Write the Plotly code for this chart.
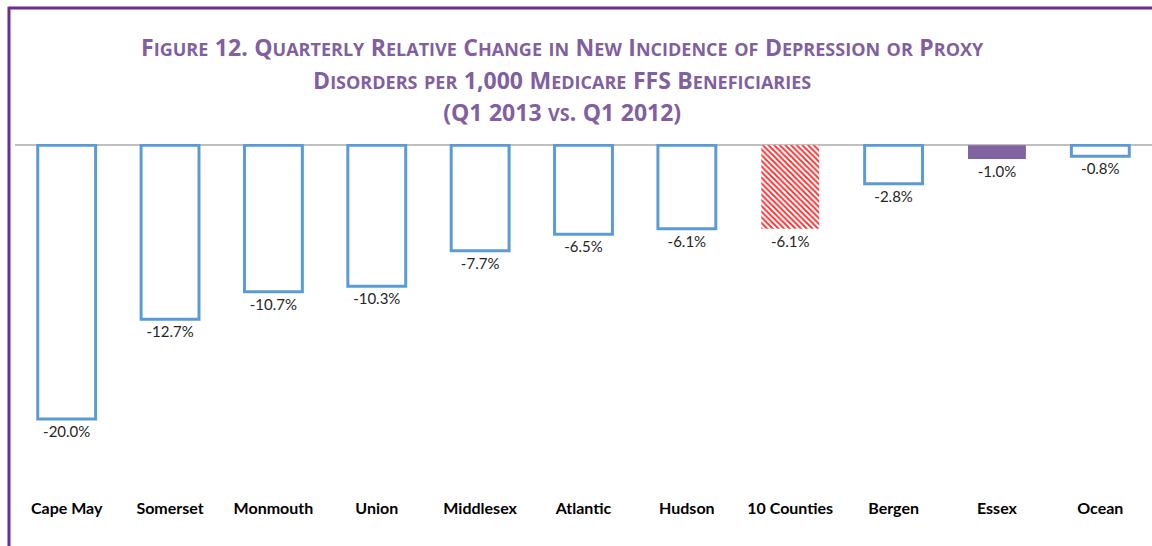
import plotly.graph_objects as go

categories = ["Cape May", "Somerset", "Monmouth", "Union", "Middlesex", "Atlantic",
              "Hudson", "10 Counties", "Bergen", "Essex", "Ocean"]
values = [-20.0, -12.7, -10.7, -10.3, -7.7, -6.5, -6.1, -6.1, -2.8, -1.0, -0.8]
labels = ["-20.0%", "-12.7%", "-10.7%", "-10.3%", "-7.7%", "-6.5%", "-6.1%", "-6.1%",
          "-2.8%", "-1.0%", "-0.8%"]
highlight = "10 Counties"

BLUE = "#5B9BD5"
PURPLE = "#8064A2"
BORDER = "#6E2C8F"
RED = "#FF1E1E"

idx_main = [i for i, c in enumerate(categories) if c != highlight]
idx_hl = [i for i, c in enumerate(categories) if c == highlight]

fill = [PURPLE if categories[i] == "Essex" else "white" for i in idx_main]
line_w = [0 if categories[i] == "Essex" else 3 for i in idx_main]

textfont = dict(family="Lato, Open Sans, sans-serif", size=15, color="#262626")


def small_caps(s, big=23, small=18):
    out = []
    for ch in s:
        if ch.islower():
            out.append(f"<span style='font-size:{small}px'>{ch.upper()}</span>")
        elif ch == " ":
            out.append(" ")
        else:
            out.append(f"<span style='font-size:{big}px'>{ch}</span>")
    return "".join(out)


title_lines = ["Figure 12. Quarterly Relative Change in New Incidence of Depression or Proxy",
               "Disorders per 1,000 Medicare FFS Beneficiaries",
               "(Q1 2013 vs. Q1 2012)"]
title_text = "<b>" + "<br>".join(small_caps(t) for t in title_lines) + "</b>"

fig = go.Figure()
fig.add_trace(go.Bar(
    x=[categories[i] for i in idx_main], y=[values[i] for i in idx_main],
    text=[labels[i] for i in idx_main], textposition="outside", textfont=textfont,
    marker=dict(color=fill, line=dict(color=BLUE, width=line_w)),
    width=0.56, cliponaxis=False,
))
fig.add_trace(go.Bar(
    x=[categories[i] for i in idx_hl], y=[values[i] for i in idx_hl],
    text=[labels[i] for i in idx_hl], textposition="outside", textfont=textfont,
    marker=dict(color=RED, line=dict(width=0),
                pattern=dict(shape="\\", fillmode="replace", bgcolor="white",
                             fgcolor=RED, size=4, solidity=0.45)),
    width=0.56, cliponaxis=False,
))

fig.update_layout(
    width=1152, height=546,
    margin=dict(l=15, r=0, t=144, b=49),
    paper_bgcolor="white", plot_bgcolor="white",
    showlegend=False, barmode="overlay",
    title=dict(text=title_text, x=0.488, xanchor="center", y=1 - 56 / 546, yanchor="top",
               font=dict(family="Liberation Sans Narrow, Open Sans, sans-serif", size=25,
                         color="#8060A0")),
    xaxis=dict(showgrid=False, showline=False, ticks="",
               categoryorder="array", categoryarray=categories,
               tickfont=dict(family="Lato, Open Sans, sans-serif", size=16, color="black",
                             weight="bold")),
    yaxis=dict(range=[-25.7, 0.1], showgrid=False, showticklabels=False, ticks="",
               zeroline=True, zerolinecolor="#BFBFBF", zerolinewidth=1.5),
    shapes=[
        dict(type="line", xref="paper", yref="paper", x0=-0.0053, x1=1.05,
             y0=1.385, y1=1.385, line=dict(color=BORDER, width=3)),
        dict(type="line", xref="paper", yref="paper", x0=-0.0053, x1=-0.0053,
             y0=1.389, y1=-0.2, line=dict(color=BORDER, width=3)),
    ],
)

fig.write_html("out.html", config={"displayModeBar": False},
               post_script="document.body.style.margin='0';")
